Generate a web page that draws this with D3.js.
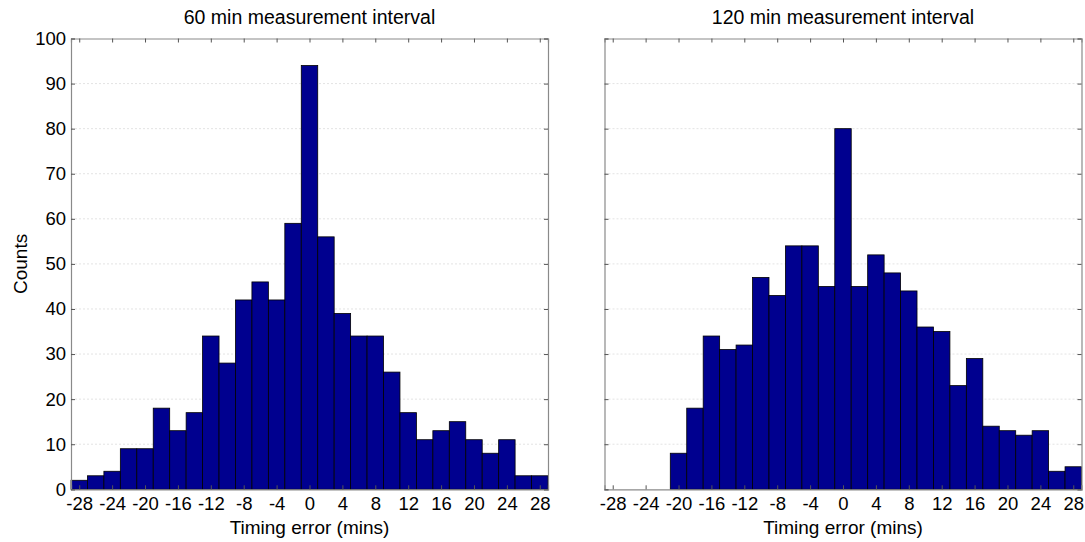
<!DOCTYPE html>
<html><head><meta charset="utf-8">
<script src="https://cdn.jsdelivr.net/npm/d3@7/dist/d3.min.js"></script>
<style>body{margin:0;background:#fff}svg{display:block}text{font-family:"Liberation Sans",Arial,Helvetica,sans-serif;fill:#000}</style>
</head><body><svg id="c" width="1085" height="542"></svg>
<script>
const binCenters = [-28,-26,-24,-22,-20,-18,-16,-14,-12,-10,-8,-6,-4,-2,0,2,4,6,8,10,12,14,16,18,20,22,24,26,28];
const counts60  = [2,3,4,9,9,18,13,17,34,28,42,46,42,59,94,56,39,34,34,26,17,11,13,15,11,8,11,3,3];
const counts120 = [0,0,0,0,8,18,34,31,32,47,43,54,54,45,80,45,52,48,44,36,35,23,29,14,13,12,13,4,5];
const xTicks = [-28,-24,-20,-16,-12,-8,-4,0,4,8,12,16,20,24,28];
const yTicks = [0,10,20,30,40,50,60,70,80,90,100];
const titles = ["60 min measurement interval","120 min measurement interval"];
const binWidth = 2;

const svg = d3.select("#c");
const panels = [
  {x0:71, x1:548, counts:counts60, title:titles[0], yLabels:true},
  {x0:604.5, x1:1081.5, counts:counts120, title:titles[1], yLabels:false}
];
const yTop = 38.5, yBot = 489.3;
const y = d3.scaleLinear().domain([0,100]).range([yBot,yTop]);
const fmt = d => String(d); // plain hyphen-minus

panels.forEach(p=>{
  const x = d3.scaleLinear().domain([-29,29]).range([p.x0,p.x1]);
  const g = svg.append("g");
  g.selectAll(".grid").data(yTicks.slice(1,-1)).join("line")
    .attr("x1",p.x0).attr("x2",p.x1).attr("y1",d=>y(d)).attr("y2",d=>y(d))
    .attr("stroke","#e3e3e3").attr("stroke-width",1).attr("stroke-dasharray","2,2");
  g.selectAll(".bar").data(binCenters.map((c,i)=>({c,v:p.counts[i]})).filter(d=>d.v>0)).join("rect")
    .attr("x",d=>x(d.c-binWidth/2)).attr("width",d=>x(d.c+binWidth/2)-x(d.c-binWidth/2))
    .attr("y",d=>y(d.v)).attr("height",d=>y(0)-y(d.v))
    .attr("fill","#00008f").attr("stroke","#000").attr("stroke-width",0.8);
  const axB = d3.axisBottom(x).tickValues(xTicks).tickSize(-4).tickPadding(8).tickFormat(fmt);
  const axT = d3.axisTop(x).tickValues(xTicks).tickSize(-4).tickFormat("");
  const axL = d3.axisLeft(y).tickValues(yTicks).tickSize(-4).tickPadding(5).tickFormat(p.yLabels?fmt:"");
  const axR = d3.axisRight(y).tickValues(yTicks).tickSize(-4).tickFormat("");
  const style = sel=>{sel.select(".domain").attr("stroke","#8a8a8a").attr("stroke-width",1.2);
    sel.selectAll(".tick line").attr("stroke","#555");
    sel.selectAll("text").style("font-size","18.5px").style("fill","#000");};
  g.append("g").attr("transform",`translate(0,${yBot})`).call(axB).call(style);
  g.append("g").attr("transform",`translate(0,${yTop})`).call(axT).call(style);
  g.append("g").attr("transform",`translate(${p.x0},0)`).call(axL).call(style);
  g.append("g").attr("transform",`translate(${p.x1},0)`).call(axR).call(style);
  g.append("text").attr("x",x(0)).attr("y",24).attr("text-anchor","middle").style("font-size","19.5px").text(p.title);
  g.append("text").attr("x",x(0)).attr("y",534).attr("text-anchor","middle").style("font-size","19px").text("Timing error (mins)");
});
svg.append("text").attr("transform",`translate(27,${(yTop+yBot)/2}) rotate(-90)`).attr("text-anchor","middle").style("font-size","19px").text("Counts");
</script></body></html>
